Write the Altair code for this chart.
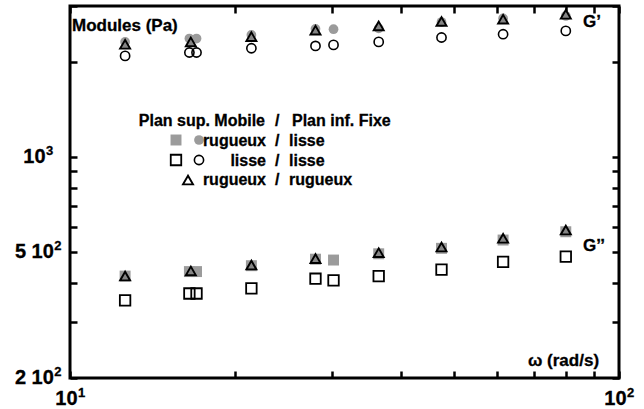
import altair as alt
import pandas as pd

# Frequency sweep: storage (G') and loss (G'') moduli for three plate combinations
# rugueux / rugueux
omega_rr = [12.6, 16.6, 21.4, 28.0, 36.5, 47.5, 61.5, 80.0]
gp_rr = [2270, 2310, 2400, 2515, 2595, 2680, 2725, 2825]
gpp_rr = [420, 436, 455, 477, 498, 519, 553, 587]

# rugueux / lisse
omega_rl = [12.6, 16.5, 17.0, 21.4, 28.0, 30.2, 36.5, 47.5, 61.5, 80.0]
gp_rl = [2310, 2367, 2367, 2430, 2540, 2533, 2550, 2670, 2740, 2790]
gpp_rl = [420, 434, 434, 453, 475, 472, 494, 514, 546, 580]

# lisse / lisse
omega_ll = [12.6, 16.5, 17.0, 21.4, 28.0, 30.2, 36.5, 47.5, 61.5, 80.0]
gp_ll = [2086, 2138, 2138, 2206, 2243, 2260, 2310, 2385, 2443, 2503]
gpp_ll = [352, 370, 370, 384, 412, 407, 420, 440, 466, 484]

# axis ticks and their labels (mantissa text + exponent)
x_ticks = [10, 20, 30, 40, 50, 60, 70, 80, 90, 100]
y_ticks = [200, 300, 400, 500, 600, 700, 800, 900, 1000, 2000, 3000]
x_label_values = [10, 100]
x_label_main = ["10", "10"]
x_label_exp = ["1", "2"]
y_label_values = [200, 500, 1000]
y_label_main = ["2 10", "5 10", "10"]
y_label_exp = ["2", "2", "3"]

FONT = "Liberation Sans"
GRAY = "#9b9b9b"
W, H = 549, 372
LEFT, TOP = 70, 6
LABEL_FS, EXP_FS = 20, 13
Y_LABEL_CENTER = 38 - LEFT  # y tick labels are centred in the left margin
HEAVY = dict(stroke="black", strokeWidth=0.3)  # slightly heavier bold text


def text_width(s, fs):
    # Arial/Liberation bold advance widths for digits and spaces
    return sum(0.278 if c == " " else 0.556 for c in s) * fs


def axis(orient, values):
    return alt.Axis(orient=orient, offset=-7, tickSize=7, tickWidth=2.5, tickColor="black",
                    domain=False, grid=False, values=values, title=None, labels=False)


xs = alt.Scale(type="log", domain=[10, 100], nice=False)
ys = alt.Scale(type="log", domain=[200, 3000], nice=False)


def frame(omega, values):
    return pd.DataFrame({"omega": omega, "modulus": values})


def series(df, mark, xa=None, ya=None):
    return alt.Chart(df).mark_point(**mark).encode(
        x=alt.X("omega:Q", scale=xs, axis=xa),
        y=alt.Y("modulus:Q", scale=ys, axis=ya),
    )


gray_circle = dict(shape="circle", filled=True, color=GRAY, size=95, opacity=1)
gray_square = dict(shape="square", filled=True, color=GRAY, size=120, opacity=1)
open_circle = dict(shape="circle", filled=False, color="black", size=85, strokeWidth=1.6, opacity=1)
open_square = dict(shape="square", filled=False, color="black", size=110, strokeWidth=1.8, opacity=1)
triangle = dict(shape="triangle-up", filled=True, fill="#858585", stroke="black",
                size=100, strokeWidth=1.9, opacity=1)

layers = [
    series(frame(omega_rl, gp_rl), gray_circle, axis("bottom", x_ticks), axis("left", y_ticks)),
    series(frame(omega_rl, gpp_rl), gray_square),
    series(frame(omega_ll, gp_ll), open_circle, axis("top", x_ticks), axis("right", y_ticks)),
    series(frame(omega_ll, gpp_ll), open_square),
    series(frame(omega_rr, gp_rr), triangle),
    series(frame(omega_rr, gpp_rr), triangle),
]

# tick labels with raised exponents
label_style = dict(font=FONT, fontWeight="bold", color="black", baseline="alphabetic", **HEAVY)

xl = pd.DataFrame({"omega": x_label_values, "main": x_label_main, "exp": x_label_exp})
x_shift = (text_width("10", LABEL_FS) + text_width("1", EXP_FS)) / 2 - text_width("1", EXP_FS)
x_base = alt.Chart(xl).encode(x=alt.X("omega:Q", scale=xs, axis=None), y=alt.value(H + 27))
layers += [
    x_base.mark_text(align="right", dx=x_shift, fontSize=LABEL_FS, **label_style).encode(text="main:N"),
    x_base.mark_text(align="left", dx=x_shift + 0.5, dy=-8, fontSize=EXP_FS, **label_style).encode(text="exp:N"),
]

yl = pd.DataFrame({"modulus": y_label_values, "main": y_label_main, "exp": y_label_exp})
yl["anchor"] = [
    Y_LABEL_CENTER + (text_width(m, LABEL_FS) + text_width(e, EXP_FS)) / 2 - text_width(e, EXP_FS)
    for m, e in zip(y_label_main, y_label_exp)
]
y_base = alt.Chart(yl).encode(x=alt.X("anchor:Q", scale=None), y=alt.Y("modulus:Q", scale=ys, axis=None))
layers += [
    y_base.mark_text(align="right", dy=6, fontSize=LABEL_FS, **label_style).encode(text="main:N"),
    y_base.mark_text(align="left", dx=0.5, dy=-2, fontSize=EXP_FS, **label_style).encode(text="exp:N"),
]

one = alt.Data(values=[{}])


def text(t, ax, ay, size=16, align="left"):
    return alt.Chart(one).mark_text(
        text=t, font=FONT, fontSize=size, fontWeight="bold", color="black",
        align=align, baseline="alphabetic", **HEAVY,
    ).encode(x=alt.value(ax - LEFT), y=alt.value(ay - TOP))


def symbol(mark, ax, ay):
    return alt.Chart(one).mark_point(**mark).encode(
        x=alt.value(ax - LEFT), y=alt.value(ay - TOP))


# annotations
layers += [
    text("Modules (Pa)", 72, 31, 17),
    text("G’", 583, 27, 17),
    text("G’’", 583, 251, 17),
    text("ω (rad/s)", 528, 366, 17),
]

# legend block
layers += [
    text("Plan sup. Mobile", 265, 126, align="right"),
    text("/", 275, 126),
    text("Plan inf. Fixe", 292, 126),
    symbol(gray_square, 176, 140),
    symbol(gray_circle, 199, 140),
    text("rugueux", 266, 146, align="right"),
    text("/", 275, 146),
    text("lisse", 289, 146),
    symbol(open_square, 176, 160),
    symbol(open_circle, 199, 160),
    text("lisse", 266, 166, align="right"),
    text("/", 275, 166),
    text("lisse", 289, 166),
    symbol(dict(triangle, fill="white"), 188, 180),
    text("rugueux", 266, 185, align="right"),
    text("/", 275, 185),
    text("rugueux", 289, 185),
]

chart = (
    alt.layer(*layers)
    .resolve_axis(x="independent", y="independent")
    .properties(
        width=W, height=H,
        autosize=alt.AutoSizeParams(type="none"),
        padding={"left": LEFT, "top": TOP, "right": 644 - LEFT - W, "bottom": 409 - TOP - H},
        background="white",
    )
    .configure_view(stroke="black", strokeWidth=3)
)

chart.save("out.html", embed_options={"renderer": "svg", "actions": False})
